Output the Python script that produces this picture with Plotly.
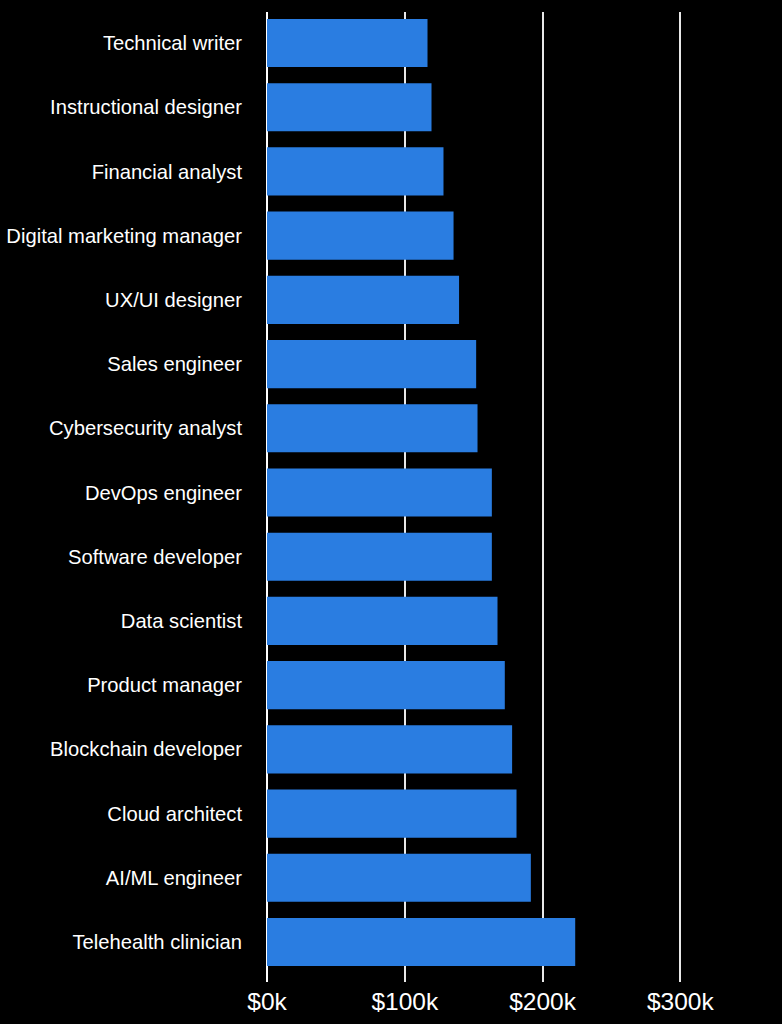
import plotly.graph_objects as go

# job titles, top to bottom as drawn
jobs = [
    "Technical writer",
    "Instructional designer",
    "Financial analyst",
    "Digital marketing manager",
    "UX/UI designer",
    "Sales engineer",
    "Cybersecurity analyst",
    "DevOps engineer",
    "Software developer",
    "Data scientist",
    "Product manager",
    "Blockchain developer",
    "Cloud architect",
    "AI/ML engineer",
    "Telehealth clinician",
]

# salary in dollars
salary = [
    116500, 119400, 128100, 135400, 139400,
    151800, 152800, 163200, 163200, 167300,
    172600, 177900, 181100, 191500, 223700,
]

tick_vals = [0, 100000, 200000, 300000]
tick_text = ["$0k", "$100k", "$200k", "$300k"]

fig = go.Figure()
fig.add_trace(go.Bar(
    x=salary,
    y=jobs,
    orientation="h",
    marker=dict(color="#2a7de1", line=dict(width=0)),
    hoverinfo="x+y",
))

fig.update_layout(
    width=782,
    height=1024,
    paper_bgcolor="black",
    plot_bgcolor="black",
    margin=dict(l=267, r=19, t=12, b=42),
    bargap=0.25,
    showlegend=False,
    font=dict(family="Liberation Sans, Arial, sans-serif", color="white"),
)

fig.update_xaxes(
    range=[0, 360000],
    tickvals=tick_vals,
    ticktext=tick_text,
    tickfont=dict(size=24.5, color="white"),
    showgrid=True,
    gridcolor="#e8e8e8",
    gridwidth=2,
    zeroline=True,
    zerolinecolor="white",
    zerolinewidth=2,
    showline=False,
    ticks="",
    ticklabelstandoff=2,
    automargin=False,
    fixedrange=True,
)

fig.update_yaxes(
    categoryorder="array",
    categoryarray=jobs,
    range=[14.623, -0.483],
    tickfont=dict(size=20.2, color="white"),
    showgrid=False,
    showline=False,
    ticks="",
    ticklabelstandoff=24,
    automargin=False,
    fixedrange=True,
)

# page has a default white body margin; make it black and flush
page_js = (
    "document.body.style.margin='0';"
    "document.body.style.background='black';"
    "document.body.style.overflow='hidden';"
)

fig.write_html("out.html", post_script=page_js, config={"displayModeBar": False})
